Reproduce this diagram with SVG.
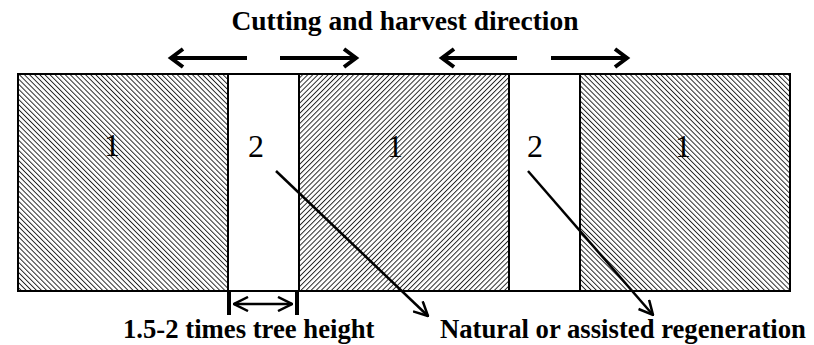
<svg xmlns="http://www.w3.org/2000/svg" width="814" height="345" viewBox="0 0 814 345">
<style>
.lbl{font-family:"Liberation Serif","Times New Roman",serif;fill:#000}
.num{font-size:32px;text-anchor:middle}
.bold{font-weight:bold;font-size:26.7px}
.blk{stroke:#000;stroke-width:2}
.arr{stroke:#000;stroke-width:4;fill:none}
.ptr{stroke:#000;stroke-width:2.5;fill:none}
</style>
<defs>
<pattern id="hb" width="3.6" height="3.6" patternUnits="userSpaceOnUse" patternTransform="rotate(-45)">
<rect width="3.6" height="3.6" fill="#fff"/>
<line x1="0" y1="0" x2="0" y2="3.6" stroke="#222" stroke-width="1.9"/>
</pattern>
<pattern id="hf" width="3.6" height="3.6" patternUnits="userSpaceOnUse" patternTransform="rotate(45)">
<rect width="3.6" height="3.6" fill="#fff"/>
<line x1="0" y1="0" x2="0" y2="3.6" stroke="#222" stroke-width="1.9"/>
</pattern>
<marker id="oh" viewBox="0 0 16 16" refX="15" refY="8" markerWidth="16" markerHeight="16" markerUnits="userSpaceOnUse" orient="auto-start-reverse">
<path d="M1,1 L15,8 L1,15" fill="none" stroke="#000" stroke-width="2.5"/>
</marker>
</defs>

<text class="lbl bold" x="405" y="30" text-anchor="middle" style="font-size:27.5px">Cutting and harvest direction</text>

<g id="strip-1a"><rect class="blk" x="18" y="74" width="210" height="217" fill="url(#hb)"/><text class="lbl num" x="112" y="156">1</text></g>
<g id="strip-2a"><rect class="blk" x="228" y="74" width="71" height="217" fill="#fff"/><text class="lbl num" x="256" y="157">2</text></g>
<g id="strip-1b"><rect class="blk" x="299" y="74" width="210" height="217" fill="url(#hf)"/><text class="lbl num" x="395" y="157">1</text></g>
<g id="strip-2b"><rect class="blk" x="509" y="74" width="71" height="217" fill="#fff"/><text class="lbl num" x="535" y="157">2</text></g>
<g id="strip-1c"><rect class="blk" x="580" y="74" width="210" height="217" fill="url(#hb)"/><text class="lbl num" x="683" y="157">1</text></g>

<g id="connectors">
<g class="arr">
<line x1="247" y1="58" x2="171" y2="58"/><path d="M183,49 L171,58 L183,67"/>
<line x1="280" y1="58" x2="356" y2="58"/><path d="M344,49 L356,58 L344,67"/>
<line x1="517" y1="58" x2="442" y2="58"/><path d="M454,49 L442,58 L454,67"/>
<line x1="551" y1="58" x2="627" y2="58"/><path d="M615,49 L627,58 L615,67"/>
</g>
<line class="ptr" x1="276" y1="171" x2="428" y2="316" marker-end="url(#oh)"/>
<line class="ptr" x1="528" y1="171" x2="653" y2="315" marker-end="url(#oh)"/>
<line x1="229" y1="291" x2="229" y2="315" stroke="#000" stroke-width="4"/>
<line x1="297" y1="291" x2="297" y2="315" stroke="#000" stroke-width="4"/>
<line class="ptr" x1="234" y1="304" x2="292" y2="304" marker-start="url(#oh)" marker-end="url(#oh)"/>
</g>

<text class="lbl bold" x="123" y="338">1.5-2 times tree height</text>
<text class="lbl bold" x="440" y="338">Natural or assisted regeneration</text>
</svg>
